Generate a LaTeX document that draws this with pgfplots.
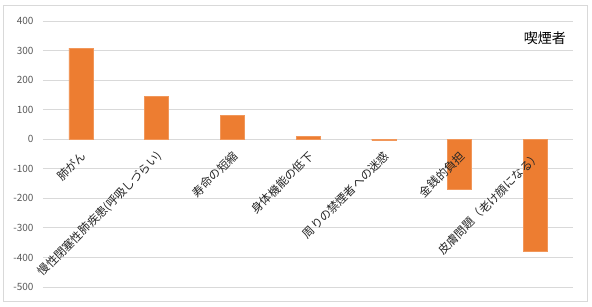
\documentclass[border=0pt]{standalone}
\usepackage{fontspec}
\setmainfont{Noto Sans CJK JP}
\usepackage{pgfplots}
\pgfplotsset{compat=1.18}
\definecolor{barorange}{HTML}{ED7D31}
\definecolor{tickgray}{HTML}{595959}
\definecolor{gridgray}{HTML}{D9D9D9}
\pgfplotsset{base/.style={
  scale only axis,
  width=530pt, height=266pt,
  xmin=-0.5, xmax=6.5,
  ymin=-500, ymax=400,
  major tick length=0pt,
  clip=false,
}}
\begin{document}
\begin{tikzpicture}
\fill[white] (-43pt,-20pt) rectangle (549pt,287pt);
\draw[gridgray, line width=1pt] (-39pt,-15pt) rectangle (544pt,281pt);
\begin{axis}[
  base,
  ytick={-500,-400,...,400},
  xtick=\empty,
  axis line style={draw=none},
  ymajorgrids,
  grid style={gridgray, line width=0.9pt},
  /pgf/number format/assume math mode=true,
  yticklabel style={font=\fontsize{10}{12}\selectfont, text=tickgray, xshift=-6pt},
  ybar, bar width=24pt,
]
\addplot[fill=barorange, draw=barorange!80!white] coordinates {(0,308) (1,145) (2,80) (3,10) (4,-4) (5,-170) (6,-380)};
\node[anchor=east, font=\fontsize{14}{16}\selectfont, inner sep=0pt] at ([xshift=-7pt,yshift=-17pt]rel axis cs:1,1) {喫煙者};
\end{axis}
\begin{axis}[
  base,
  xtick={0,...,6},
  xticklabels={肺がん,慢性閉塞性肺疾患(呼吸しづらい),寿命の短縮,身体機能の低下,周りの禁煙者への迷惑,金銭的負担,皮膚問題（老け顔になる）},
  axis x line=middle,
  axis y line=none,
  x axis line style={draw=none,-},
  xticklabel style={font=\fontsize{11.6}{14}\selectfont, text=black!85, rotate=45, anchor=north east, inner sep=1pt, xshift=-7pt, yshift=-6pt},
]
\addplot[draw=none] coordinates {(0,0)};
\end{axis}
\end{tikzpicture}
\end{document}
